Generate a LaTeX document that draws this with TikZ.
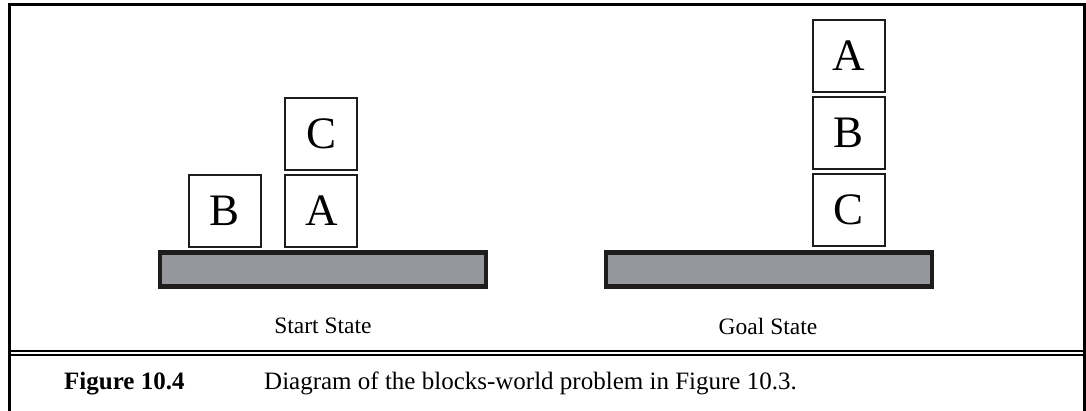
\documentclass[tikz,border=0pt]{standalone}
\usepackage{fontspec}
\setmainfont{Liberation Serif}
\definecolor{tablegray}{RGB}{150,151,156}
\definecolor{edgedark}{RGB}{30,28,28}
\begin{document}
\begin{tikzpicture}[x=1pt,y=-1pt,
  blk/.style={draw=edgedark, line width=2pt, fill=white, minimum width=72pt, minimum height=72pt, inner sep=0pt, font=\fontsize{45}{45}\selectfont},
  tbl/.style={draw=edgedark, line width=4.6pt, fill=tablegray, minimum width=326pt, minimum height=33.7pt, inner sep=0pt},
  lbl/.style={font=\fontsize{23.5}{23.5}\selectfont, inner sep=0pt},
  captxt/.style={font=\fontsize{25}{25}\selectfont, inner sep=0pt, anchor=base west},
  framestyle/.style={line width=2.8pt}]
\useasboundingbox (0,0) rectangle (1086,410);
% frame
\draw[framestyle] (9.3,412) -- (9.3,4.5) -- (1084.5,4.5) -- (1084.5,412);
\draw[line width=2pt] (9.3,351) -- (1084.5,351);
\draw[line width=2pt] (9.3,355) -- (1084.5,355);
% start state
\node[tbl] (t1) at (323,269.4) {};
\node[blk] (b1) at (225,210.7) {B};
\node[blk] (a1) at (321.3,210.7) {A};
\node[blk] (c1) at (321.3,133.5) {C};
\node[lbl] (s1) at (323,326) {Start State};
% goal state
\node[tbl] (t2) at (769,269.4) {};
\node[blk] (c2) at (848.7,210.3) {C};
\node[blk] (b2) at (848.7,133) {B};
\node[blk] (a2) at (848.7,56) {A};
\node[lbl] (s2) at (768,326) {Goal State};
% caption
\node[captxt, font=\fontsize{25}{25}\selectfont\bfseries] (f) at (64,389) {Figure 10.4};
\node[captxt] (d) at (264,389) {Diagram of the blocks-world problem in Figure 10.3.};
\end{tikzpicture}
\end{document}
